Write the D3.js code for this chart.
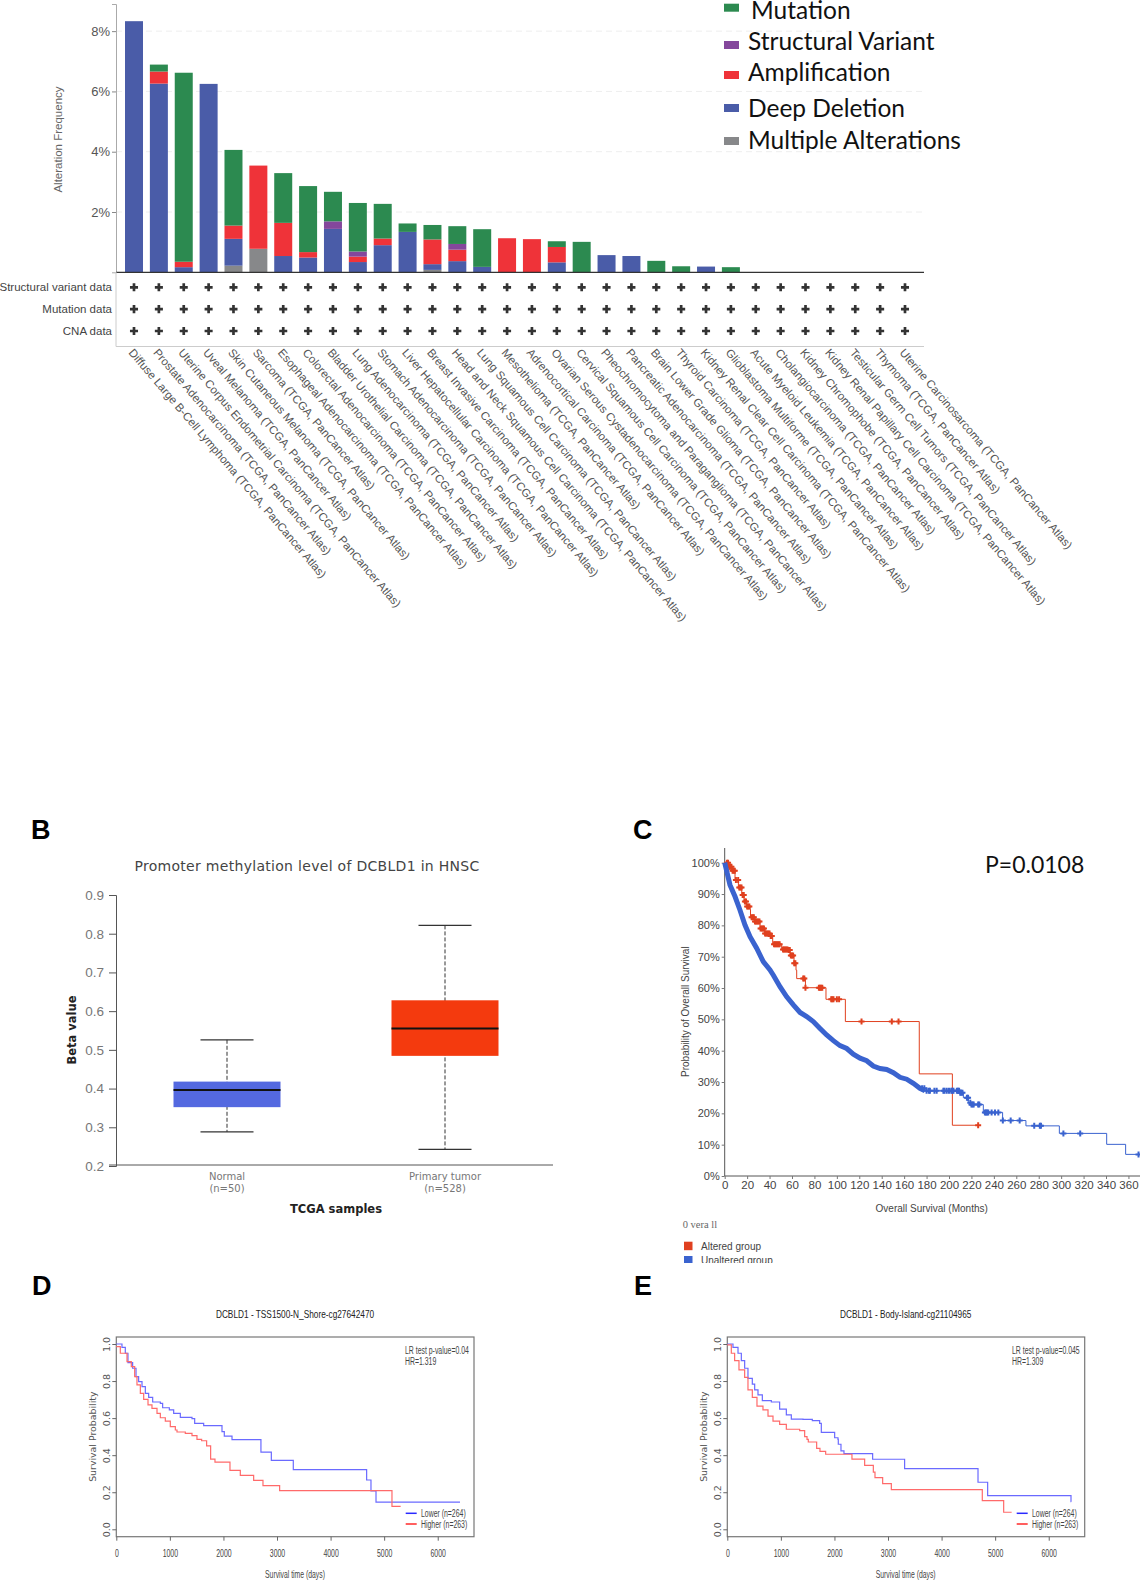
<!DOCTYPE html>
<html>
<head>
<meta charset="utf-8">
<script src="https://cdn.jsdelivr.net/npm/d3@7"></script>
<style>
  body { margin: 0; background: #fff; }
  svg { display: block; }
  text { font-family: "Liberation Sans", Arial, sans-serif; }
  .calibri { font-family: Lato, "Open Sans", sans-serif; }
  .dejavu, .dejavu text { font-family: "DejaVu Sans", sans-serif; }
</style>
</head>
<body>
<div id="chart"></div>
<script>
// Panel A - alteration frequency by cancer study
var cancerTypes = [
    "Diffuse Large B-Cell Lymphoma", "Prostate Adenocarcinoma", "Uterine Corpus Endometrial Carcinoma",
    "Uveal Melanoma", "Skin Cutaneous Melanoma", "Sarcoma", "Esophageal Adenocarcinoma",
    "Colorectal Adenocarcinoma", "Bladder Urothelial Carcinoma", "Lung Adenocarcinoma",
    "Stomach Adenocarcinoma", "Liver Hepatocellular Carcinoma", "Breast Invasive Carcinoma",
    "Head and Neck Squamous Cell Carcinoma", "Lung Squamous Cell Carcinoma", "Mesothelioma",
    "Adrenocortical Carcinoma", "Ovarian Serous Cystadenocarcinoma", "Cervical Squamous Cell Carcinoma",
    "Pheochromocytoma and Paraganglioma", "Pancreatic Adenocarcinoma", "Brain Lower Grade Glioma",
    "Thyroid Carcinoma", "Kidney Renal Clear Cell Carcinoma", "Glioblastoma Multiforme",
    "Acute Myeloid Leukemia", "Cholangiocarcinoma", "Kidney Chromophobe",
    "Kidney Renal Papillary Cell Carcinoma", "Testicular Germ Cell Tumors", "Thymoma",
    "Uterine Carcinosarcoma"
];
var multipleAlt = [0, 0, 0, 0, 0.22, 0.78, 0, 0, 0, 0, 0, 0, 0.08, 0, 0, 0, 0, 0, 0, 0, 0, 0, 0, 0, 0, 0, 0, 0, 0, 0, 0, 0];
var deepDeletion = [8.33, 6.26, 0.17, 6.25, 0.89, 0, 0.54, 0.49, 1.44, 0.34, 0.90, 1.34, 0.19, 0.37, 0.18, 0, 0, 0.33, 0, 0.57, 0.54, 0, 0, 0.19, 0, 0, 0, 0, 0, 0, 0, 0];
var amplification = [0, 0.40, 0.18, 0, 0.44, 2.76, 1.10, 0.18, 0, 0.18, 0.22, 0, 0.82, 0.38, 0, 1.13, 1.10, 0.51, 0, 0, 0, 0, 0, 0, 0, 0, 0, 0, 0, 0, 0, 0];
var structuralVariant = [0, 0, 0, 0, 0, 0, 0, 0, 0.25, 0.17, 0, 0, 0, 0.19, 0, 0, 0, 0, 0, 0, 0, 0, 0, 0, 0, 0, 0, 0, 0, 0, 0, 0];
var mutation = [0, 0.23, 6.27, 0, 2.51, 0, 1.65, 2.19, 0.98, 1.61, 1.15, 0.28, 0.48, 0.59, 1.25, 0, 0, 0.19, 1.01, 0, 0, 0.38, 0.20, 0, 0.17, 0, 0, 0, 0, 0, 0, 0];
var freqTicks = [2, 4, 6, 8];
var profiledRows = ["Structural variant data", "Mutation data", "CNA data"];
var legendNames = ["Mutation", "Structural Variant", "Amplification", "Deep Deletion", "Multiple Alterations"];

// Panel B - promoter methylation boxes
var boxGroups = ["Normal", "Primary tumor"];
var boxCounts = ["(n=50)", "(n=528)"];
var boxMin = [0.288, 0.243];
var boxQ1 = [0.352, 0.4845];
var boxMedian = [0.396, 0.555];
var boxQ3 = [0.418, 0.628];
var boxMax = [0.526, 0.8215];
var betaTicks = [0.2, 0.3, 0.4, 0.5, 0.6, 0.7, 0.8, 0.9];

// Panel C - overall survival
var alteredMonths = [0, 3.3, 6.2, 9.2, 12.2, 15.2, 17.2, 19.6, 22.6, 23, 27, 31.5, 36, 41, 42.8, 49.3, 50.8, 56.8, 58.2, 61.8, 63.6, 64.2, 72, 90.3, 107.6, 173.5, 203, 226];
var alteredPct = [100, 98.7, 97.4, 94.5, 92.1, 89.7, 87.6, 86, 85.1, 82.6, 81.2, 79, 77.4, 76.6, 74, 73.8, 72.3, 72.1, 70.4, 67.9, 65.7, 63, 60.1, 56.4, 49.3, 32.6, 16.2, 16.2];
var alteredCensors = [2, 3, 4, 5, 6, 7, 8, 9, 10, 12, 13, 14, 15, 16, 17, 18, 19, 20, 21, 22, 24, 25, 26, 27, 28, 29, 30, 31, 32, 33, 34, 35, 36, 37, 38, 39, 40, 41, 42, 44, 45, 46, 47, 48, 49, 52, 53, 54, 55, 56, 57, 58, 59, 60, 61, 62, 63, 70, 71, 72, 84, 85, 86, 87, 95, 96, 97, 100, 102, 122, 149, 155, 226];
var unalteredMonths = [0, 4.7, 9.2, 13.6, 18.1, 22.6, 28.5, 34.4, 40.4, 43.4, 49.3, 55.3, 61.2, 67.2, 73.1, 79, 85, 90.9, 96.9, 102.8, 108.8, 114.7, 120.7, 126.6, 132.5, 138.5, 144.4, 150.4, 156.3, 162.3, 168.2, 174.1, 178.6, 209.8, 212.8, 217.2, 220, 230.6, 247.8, 268.6, 298.4, 340.6, 357.5, 370];
var unalteredPct = [100, 92.9, 89.2, 84.9, 80.1, 76.4, 72.7, 68.4, 65.8, 64.1, 60.4, 57.2, 54.6, 52.2, 50.9, 49.3, 47.1, 45, 43.2, 41.6, 40.7, 38.9, 37.6, 36.8, 35.1, 34.3, 34, 33, 31.5, 30.9, 29.6, 28, 27.2, 26.6, 25, 23.4, 22.8, 20.3, 17.7, 16, 13.6, 10.1, 6.9, 6.9];
var unalteredCensors = [176, 178, 180, 182, 183, 187, 189, 195, 196, 198, 200, 202, 203, 204, 207, 208, 209, 210, 211, 212, 216, 217, 219, 220, 221, 222, 226, 227, 232, 233, 234, 235, 238, 241, 244, 248, 255, 263, 276, 281, 282, 302, 317, 369];
var monthTicks = [0, 20, 40, 60, 80, 100, 120, 140, 160, 180, 200, 220, 240, 260, 280, 300, 320, 340, 360];
var pctTicks = [0, 10, 20, 30, 40, 50, 60, 70, 80, 90, 100];

// Panels D and E - methylation site survival
var dLowerDays = [0, 57, 106, 168, 218, 305, 368, 417, 480, 542, 604, 679, 822, 865, 990, 1071, 1195, 1413, 1463, 1631, 1973, 2016, 2160, 2700, 2894, 3304, 4673, 4754, 4848, 6416];
var dLowerSurv = [1, 1, 0.982, 0.95, 0.899, 0.869, 0.824, 0.797, 0.77, 0.734, 0.712, 0.687, 0.68, 0.656, 0.644, 0.626, 0.604, 0.597, 0.572, 0.559, 0.527, 0.503, 0.484, 0.417, 0.372, 0.322, 0.266, 0.207, 0.147, 0.147];
var dHigherDays = [0, 75, 200, 280, 343, 386, 449, 511, 592, 666, 760, 822, 915, 1008, 1102, 1133, 1288, 1413, 1506, 1593, 1686, 1761, 1842, 2122, 2315, 2564, 2738, 3049, 5146, 5308];
var dHigherSurv = [0.986, 0.95, 0.905, 0.878, 0.824, 0.779, 0.734, 0.701, 0.671, 0.653, 0.626, 0.602, 0.584, 0.554, 0.536, 0.525, 0.518, 0.505, 0.485, 0.478, 0.45, 0.379, 0.363, 0.318, 0.291, 0.264, 0.236, 0.209, 0.124, 0.124];
var eLowerDays = [0, 106, 200, 262, 324, 386, 467, 511, 573, 654, 822, 977, 1102, 1195, 1413, 1587, 1724, 1755, 2004, 2066, 2072, 2122, 2178, 2713, 3310, 4680, 4860, 6416, 6420];
var eLowerSurv = [1, 0.982, 0.95, 0.91, 0.869, 0.815, 0.784, 0.752, 0.725, 0.694, 0.687, 0.649, 0.617, 0.595, 0.593, 0.586, 0.572, 0.523, 0.494, 0.485, 0.459, 0.423, 0.408, 0.378, 0.327, 0.254, 0.182, 0.149, 0.149];
var eHigherDays = [0, 75, 137, 218, 324, 386, 467, 554, 666, 760, 853, 977, 1102, 1351, 1444, 1488, 1512, 1668, 1730, 1836, 2327, 2564, 2726, 2757, 2900, 3062, 4760, 5159, 5308];
var eHigherSurv = [0.995, 0.95, 0.91, 0.86, 0.82, 0.752, 0.712, 0.665, 0.644, 0.611, 0.584, 0.566, 0.54, 0.532, 0.5, 0.485, 0.471, 0.437, 0.421, 0.405, 0.379, 0.345, 0.309, 0.279, 0.246, 0.214, 0.155, 0.092, 0.092];
var dayTicks = [0, 1000, 2000, 3000, 4000, 5000, 6000];
var survTicks = [0, 0.2, 0.4, 0.6, 0.8, 1];

// colours
var cMutation = "#2c8a50", cStructural = "#84479c", cAmp = "#ef3339", cDeep = "#4a5ca8", cMultiple = "#87888a";
var legendColors = [cMutation, cStructural, cAmp, cDeep, cMultiple];

var svgWidth = 1140;
var svgHeight = 1582;

var svg = d3.select("#chart")
    .append("svg")
    .attr("width", svgWidth)
    .attr("height", svgHeight)
    .attr("viewBox", `0 0 ${svgWidth} ${svgHeight}`);

svg.append("rect").attr("width", svgWidth).attr("height", svgHeight).attr("fill", "#fff");

// panel letters
var letterX = { B: 31, C: 633, D: 32, E: 634 };
var letterY = { B: 839, C: 839, D: 1295, E: 1295 };
Object.keys(letterX).forEach(function (k) {
    svg.append("text")
        .attr("x", letterX[k])
        .attr("y", letterY[k])
        .attr("font-size", 27)
        .attr("font-weight", "bold")
        .text(k);
});

// squeeze text sideways, no narrow font is installed
function condense(selection, k) {
    selection.each(function () {
        var len = this.getComputedTextLength();
        d3.select(this)
            .attr("textLength", len * k)
            .attr("lengthAdjust", "spacingAndGlyphs");
    });
}

// ---------- Panel A ----------
function drawPanelA() {
    var x = d3.scalePoint().domain(d3.range(cancerTypes.length)).range([134, 905]);
    var y = d3.scaleLinear().domain([0, 8.9]).range([272.3, 4]);
    var g = svg.append("g");

    // dashed grid
    g.selectAll(".grid")
        .data(freqTicks)
        .enter()
        .append("line")
        .attr("x1", 116)
        .attr("x2", 924)
        .attr("y1", d => y(d))
        .attr("y2", d => y(d))
        .attr("stroke", "#eee")
        .attr("stroke-dasharray", "6,4");

    // stacked bars, bottom to top like the cbioportal plot
    var table = cancerTypes.map(function (name, i) {
        return {
            i: i,
            multiple: multipleAlt[i],
            deep: deepDeletion[i],
            amp: amplification[i],
            sv: structuralVariant[i],
            mut: mutation[i]
        };
    });
    var keys = ["multiple", "deep", "amp", "sv", "mut"];
    var keyColor = { multiple: cMultiple, deep: cDeep, amp: cAmp, sv: cStructural, mut: cMutation };
    var layers = d3.stack().keys(keys)(table);
    var barWidth = 18;

    layers.forEach(function (layer) {
        g.selectAll(".bar-" + layer.key)
            .data(layer)
            .enter()
            .append("rect")
            .attr("x", d => x(d.data.i) - barWidth / 2)
            .attr("y", d => y(d[1]))
            .attr("width", barWidth)
            .attr("height", d => y(d[0]) - y(d[1]))
            .attr("fill", keyColor[layer.key]);
    });

    // axis
    var yAxis = d3.axisLeft(y).tickValues(freqTicks).tickFormat(d => d + "%").tickSize(4).tickPadding(2);
    var axisG = g.append("g").attr("transform", "translate(116,0)").call(yAxis);
    axisG.select(".domain").attr("stroke", "#aaa");
    axisG.selectAll(".tick line").attr("stroke", "#888");
    axisG.selectAll("text").attr("font-size", 13).attr("fill", "#555");

    g.append("line")
        .attr("x1", 116).attr("x2", 924)
        .attr("y1", y(0)).attr("y2", y(0))
        .attr("stroke", "#333").attr("stroke-width", 1.2);

    g.append("text")
        .attr("transform", "translate(62,139.5) rotate(-90)")
        .attr("text-anchor", "middle")
        .attr("font-size", 11.5)
        .attr("fill", "#666")
        .text("Alteration Frequency");

    // profiled table
    var rowY = d3.scalePoint().domain(profiledRows).range([287.3, 331]);
    g.append("path")
        .attr("d", "M116,272V346.5H924")
        .attr("fill", "none")
        .attr("stroke", "#ccc");

    profiledRows.forEach(function (row) {
        g.append("text")
            .attr("x", 112)
            .attr("y", rowY(row) + 4)
            .attr("text-anchor", "end")
            .attr("font-size", 11.5)
            .attr("fill", "#444")
            .text(row);
        g.selectAll(".plus")
            .data(table)
            .enter()
            .append("path")
            .attr("d", d3.symbol().type(d3.symbolCross).size(36))
            .attr("transform", d => `translate(${x(d.i)},${rowY(row)})`)
            .attr("fill", "#333");
    });

    // slanted study names
    g.selectAll(".study")
        .data(table)
        .enter()
        .append("text")
        .attr("transform", d => `translate(${x(d.i) - 6},353) rotate(49.5)`)
        .attr("font-size", 11.5)
        .attr("fill", "#555")
        .text(d => cancerTypes[d.i] + " (TCGA, PanCancer Atlas)");

    // legend
    var swatchY = [7.7, 45, 75, 108, 141];
    var textX = [751, 748, 748, 748, 748];
    var textY = [19, 50, 81, 117, 149];
    legendNames.forEach(function (name, i) {
        g.append("rect")
            .attr("x", 724).attr("y", swatchY[i] - 4)
            .attr("width", 15).attr("height", 8)
            .attr("fill", legendColors[i]);
        g.append("text")
            .attr("class", "calibri")
            .attr("x", textX[i]).attr("y", textY[i])
            .attr("font-size", 24.5)
            .attr("fill", "#111")
            .text(name);
    });
}

// ---------- Panel B ----------
function drawPanelB() {
    var y = d3.scaleLinear().domain([0.2, 0.9]).range([1166, 895]);
    var x = d3.scalePoint().domain(boxGroups).range([227, 445]);
    var g = svg.append("g").attr("class", "dejavu");
    var boxFill = ["#5469e0", "#f43a0e"];
    var boxWidth = 107;
    var capWidth = 53;

    g.append("text")
        .attr("x", 307).attr("y", 871)
        .attr("text-anchor", "middle")
        .attr("font-size", 14)
        .attr("letter-spacing", 0.3)
        .attr("fill", "#444")
        .text("Promoter methylation level of DCBLD1 in HNSC");

    var yAxis = d3.axisLeft(y).tickValues(betaTicks).tickFormat(d3.format(".1f")).tickSize(7).tickPadding(5);
    var axisG = g.append("g").attr("transform", "translate(116,0)").call(yAxis);
    axisG.select(".domain").attr("stroke", "#555");
    axisG.selectAll(".tick line").attr("stroke", "#555");
    axisG.selectAll("text")
        .attr("font-size", 13.5)
        .attr("fill", "#777")
        .style("font-family", "Liberation Sans");

    g.append("line")
        .attr("x1", 109).attr("x2", 553)
        .attr("y1", 1165).attr("y2", 1165)
        .attr("stroke", "#555");

    boxGroups.forEach(function (name, i) {
        var cx = x(name);
        g.append("line")
            .attr("x1", cx).attr("x2", cx)
            .attr("y1", y(boxMax[i])).attr("y2", y(boxMin[i]))
            .attr("stroke", "#333")
            .attr("stroke-dasharray", "4,2");
        [boxMax[i], boxMin[i]].forEach(function (v) {
            g.append("line")
                .attr("x1", cx - capWidth / 2).attr("x2", cx + capWidth / 2)
                .attr("y1", y(v)).attr("y2", y(v))
                .attr("stroke", "#333").attr("stroke-width", 1.3);
        });
        g.append("rect")
            .attr("x", cx - boxWidth / 2).attr("y", y(boxQ3[i]))
            .attr("width", boxWidth).attr("height", y(boxQ1[i]) - y(boxQ3[i]))
            .attr("fill", boxFill[i]);
        g.append("line")
            .attr("x1", cx - boxWidth / 2).attr("x2", cx + boxWidth / 2)
            .attr("y1", y(boxMedian[i])).attr("y2", y(boxMedian[i]))
            .attr("stroke", "#111").attr("stroke-width", 2);
        g.append("text")
            .attr("x", cx).attr("y", 1180)
            .attr("text-anchor", "middle").attr("font-size", 10).attr("fill", "#777")
            .text(name);
        g.append("text")
            .attr("x", cx).attr("y", 1192)
            .attr("text-anchor", "middle").attr("font-size", 10).attr("fill", "#777")
            .text(boxCounts[i]);
    });

    g.append("text")
        .attr("x", 336).attr("y", 1213)
        .attr("text-anchor", "middle")
        .attr("font-size", 11.5).attr("font-weight", "bold").attr("fill", "#222")
        .text("TCGA samples");
    g.append("text")
        .attr("transform", "translate(76,1030) rotate(-90)")
        .attr("text-anchor", "middle")
        .attr("font-size", 11.5).attr("font-weight", "bold").attr("fill", "#222")
        .text("Beta value");
}

// step lookup so censor marks sit on their curve
function stepValue(months, pct, m) {
    var idx = d3.bisectRight(months, m) - 1;
    return pct[Math.max(idx, 0)];
}

// ---------- Panel C ----------
function drawPanelC() {
    var x = d3.scaleLinear().domain([0, 20]).range([724.7, 747.13]);
    var y = d3.scaleLinear().domain([0, 100]).range([1176, 862.7]);
    var g = svg.append("g");
    var red = "#e0401f";
    var blue = "#3a63cf";

    var xAxis = d3.axisBottom(x).tickValues(monthTicks).tickSize(3).tickPadding(2);
    var xG = g.append("g").attr("transform", "translate(0,1176)").call(xAxis);
    xG.select(".domain").attr("stroke", "#555").attr("d", "M724.7,0H1140");
    xG.selectAll(".tick line").attr("stroke", "#777");
    xG.selectAll("text").attr("font-size", 11.5).attr("fill", "#444");

    var yAxis = d3.axisLeft(y).tickValues(pctTicks).tickFormat(d => d + "%").tickSize(3).tickPadding(2);
    var yG = g.append("g").attr("transform", "translate(724.7,0)").call(yAxis);
    yG.select(".domain").attr("stroke", "#555").attr("d", "M0,848V1176");
    yG.selectAll(".tick line").attr("stroke", "#777");
    yG.selectAll("text").attr("font-size", 11).attr("fill", "#444");

    var stepLine = d3.line()
        .x(d => x(d[0]))
        .y(d => y(d[1]))
        .curve(d3.curveStepAfter);
    var smoothLine = d3.line()
        .x(d => x(d[0]))
        .y(d => y(d[1]));

    var unaltered = d3.zip(unalteredMonths, unalteredPct);
    var altered = d3.zip(alteredMonths, alteredPct);

    g.append("path")
        .attr("d", stepLine(altered))
        .attr("fill", "none").attr("stroke", red).attr("stroke-width", 1);

    var plus = d3.symbol().type(d3.symbolCross).size(20);
    g.selectAll(".cens-red")
        .data(alteredCensors)
        .enter()
        .append("path")
        .attr("d", plus)
        .attr("transform", d => `translate(${x(d)},${y(stepValue(alteredMonths, alteredPct, d))})`)
        .attr("fill", red);

    // the dense early part of the unaltered curve reads as a thick band
    g.append("path")
        .attr("d", smoothLine(unaltered.filter(d => d[0] <= 178.6)))
        .attr("fill", "none").attr("stroke", blue).attr("stroke-width", 5);
    g.append("path")
        .attr("d", stepLine(unaltered.filter(d => d[0] >= 178.6)))
        .attr("fill", "none").attr("stroke", blue).attr("stroke-width", 1);
    g.selectAll(".cens-blue")
        .data(unalteredCensors)
        .enter()
        .append("path")
        .attr("d", plus)
        .attr("transform", d => `translate(${x(d)},${y(stepValue(unalteredMonths, unalteredPct, d))})`)
        .attr("fill", blue);

    g.append("text")
        .attr("class", "calibri")
        .attr("x", 985).attr("y", 873)
        .attr("font-size", 23).attr("fill", "#111")
        .text("P=0.0108");

    g.append("text")
        .attr("transform", "translate(689,1011.7) rotate(-90)")
        .attr("text-anchor", "middle")
        .attr("font-size", 10).attr("fill", "#444")
        .text("Probability of Overall Survival");
    g.append("text")
        .attr("x", 931.7).attr("y", 1211.7)
        .attr("text-anchor", "middle")
        .attr("font-size", 10).attr("fill", "#444")
        .text("Overall Survival (Months)");
    g.append("text")
        .attr("x", 682.7).attr("y", 1227.7)
        .style("font-family", "Liberation Serif")
        .attr("font-size", 10.5).attr("fill", "#666")
        .text("0 vera ll");

    // legend gets cut by the panel below
    var clip = g.append("g");
    svg.append("clipPath").attr("id", "legendClip")
        .append("rect").attr("x", 670).attr("y", 1235).attr("width", 200).attr("height", 28);
    clip.attr("clip-path", "url(#legendClip)");
    var legendText = ["Altered group", "Unaltered group"];
    var legendFill = [red, blue];
    var swatchTop = [1241.7, 1256];
    legendText.forEach(function (t, i) {
        clip.append("rect")
            .attr("x", 684).attr("y", swatchTop[i])
            .attr("width", 8.5).attr("height", 8.5)
            .attr("fill", legendFill[i]);
        clip.append("text")
            .attr("x", 701).attr("y", swatchTop[i] + 8)
            .attr("font-size", 10).attr("fill", "#444")
            .text(t);
    });
}

// ---------- Panels D and E ----------
function drawSurvivalPanel(opt) {
    var x = d3.scaleLinear().domain([0, 1000]).range([opt.left, opt.left + 53.57]);
    var y = d3.scaleLinear().domain([0, 1]).range([1529.3, 1344]);
    var g = svg.append("g");

    g.append("rect")
        .attr("x", opt.left).attr("y", 1337)
        .attr("width", opt.right - opt.left).attr("height", 199.7)
        .attr("fill", "none").attr("stroke", "#777").attr("stroke-width", 1.2);

    var xAxis = d3.axisBottom(x).tickValues(dayTicks).tickFormat(d3.format("d")).tickSize(4).tickPadding(9);
    var xG = g.append("g").attr("transform", "translate(0,1536.7)").call(xAxis);
    xG.select(".domain").remove();
    xG.selectAll(".tick line").attr("stroke", "#666");
    xG.selectAll("text").attr("font-size", 10.5).attr("fill", "#444");
    condense(xG.selectAll("text"), 0.66);

    var yAxis = d3.axisLeft(y).tickValues(survTicks).tickFormat(d3.format(".1f")).tickSize(4).tickPadding(3);
    var yG = g.append("g").attr("class", "dejavu").attr("transform", `translate(${opt.left},0)`).call(yAxis);
    yG.select(".domain").remove();
    yG.selectAll(".tick line").attr("stroke", "#666");
    yG.selectAll("text")
        .attr("font-size", 9.5)
        .attr("fill", "#555")
        .attr("text-anchor", "middle")
        .attr("dy", null)
        .attr("x", null)
        .attr("transform", "translate(-6.5,0) rotate(-90)");

    var line = d3.line()
        .x(d => x(d[0]))
        .y(d => y(d[1]))
        .curve(d3.curveStepAfter);
    g.append("path")
        .attr("d", line(d3.zip(opt.lowerDays, opt.lowerSurv)))
        .attr("fill", "none").attr("stroke", "#6a6aff").attr("stroke-width", 1.2);
    g.append("path")
        .attr("d", line(d3.zip(opt.higherDays, opt.higherSurv)))
        .attr("fill", "none").attr("stroke", "#ff6a6a").attr("stroke-width", 1.2);

    var title = g.append("text")
        .attr("x", opt.titleX).attr("y", 1318)
        .attr("text-anchor", "middle").attr("font-size", 11.5).attr("fill", "#222")
        .text(opt.title);
    condense(title, 0.72);
    var xTitle = g.append("text")
        .attr("x", opt.titleX).attr("y", 1578)
        .attr("text-anchor", "middle").attr("font-size", 10.5).attr("fill", "#444")
        .text("Survival time (days)");
    condense(xTitle, 0.65);
    g.append("text")
        .attr("class", "dejavu")
        .attr("transform", `translate(${opt.left - 20},1436.7) rotate(-90)`)
        .attr("text-anchor", "middle").attr("font-size", 9.4).attr("fill", "#555")
        .text("Survival Probability");

    var note = g.append("g");
    note.append("text")
        .attr("x", opt.noteX).attr("y", 1354)
        .attr("font-size", 10).attr("fill", "#444").text(opt.pText);
    note.append("text")
        .attr("x", opt.noteX).attr("y", 1365)
        .attr("font-size", 10).attr("fill", "#444").text(opt.hrText);

    var keyY = [1513.3, 1524];
    var keyColor = ["#2a2aff", "#ff2a2a"];
    var keyText = ["Lower (n=264)", "Higher (n=263)"];
    keyText.forEach(function (t, i) {
        g.append("line")
            .attr("x1", opt.keyX).attr("x2", opt.keyX + 11)
            .attr("y1", keyY[i]).attr("y2", keyY[i])
            .attr("stroke", keyColor[i]).attr("stroke-width", 1.5);
        note.append("text")
            .attr("x", opt.keyX + 15.3).attr("y", keyY[i] + 3.7)
            .attr("font-size", 10).attr("fill", "#444").text(t);
    });
    condense(note.selectAll("text"), 0.69);
}

drawPanelA();
drawPanelB();
drawPanelC();
drawSurvivalPanel({
    left: 116.3, right: 474, titleX: 295, noteX: 405, keyX: 405.7,
    title: "DCBLD1 - TSS1500-N_Shore-cg27642470",
    pText: "LR test p-value=0.04", hrText: "HR=1.319",
    lowerDays: dLowerDays, lowerSurv: dLowerSurv,
    higherDays: dHigherDays, higherSurv: dHigherSurv
});
drawSurvivalPanel({
    left: 727.3, right: 1084.7, titleX: 905.7, noteX: 1012, keyX: 1016.7,
    title: "DCBLD1 - Body-Island-cg21104965",
    pText: "LR test p-value=0.045", hrText: "HR=1.309",
    lowerDays: eLowerDays, lowerSurv: eLowerSurv,
    higherDays: eHigherDays, higherSurv: eHigherSurv
});
</script>
</body>
</html>
